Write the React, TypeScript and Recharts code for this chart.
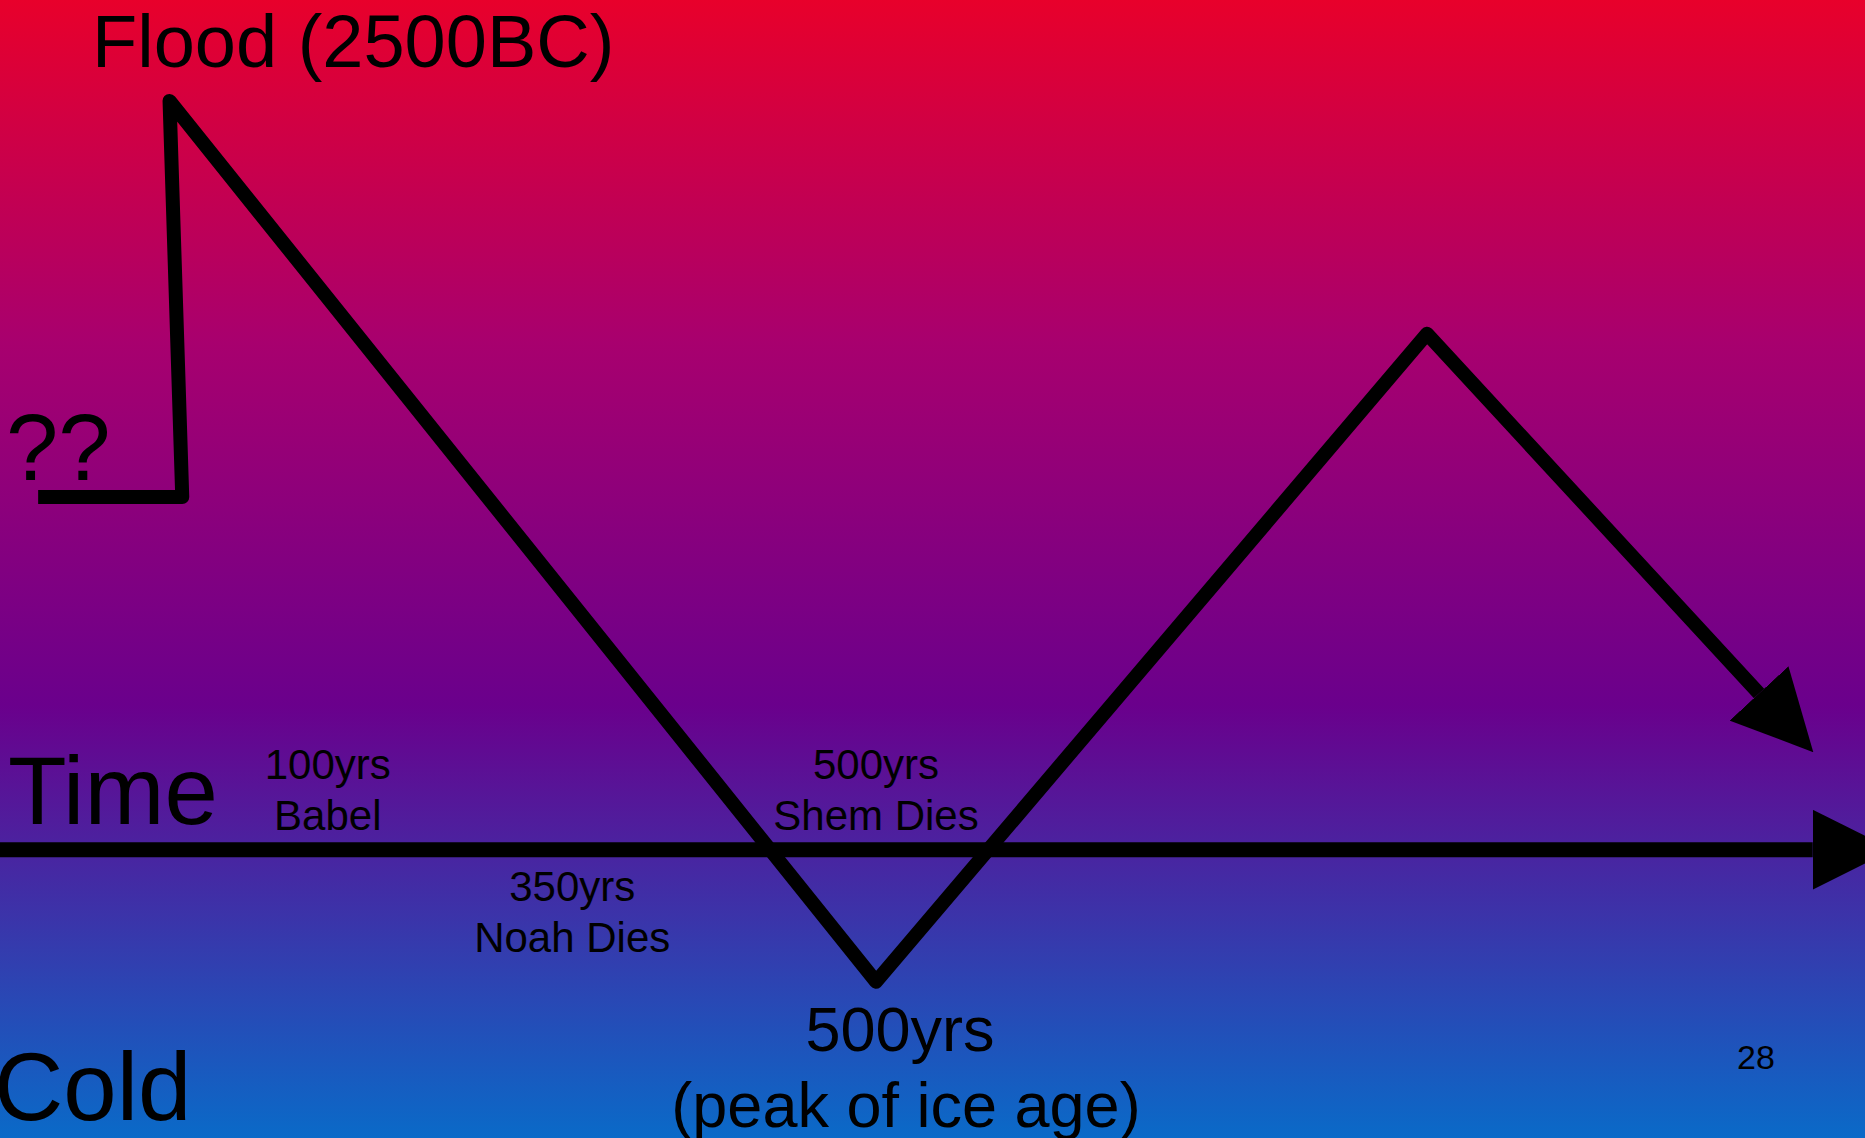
import { LineChart, Line, XAxis, YAxis, ReferenceDot } from "recharts";

// schematic time units (flood = 0) and relative temperature (time axis = 0)
const climateTime = [-93, 9, 0, 500, 890, 1125];
const climateTemp = [46.5, 46.5, 98.7, -17.4, 68, 20.6];

const timeAxisTime = [-120, 1163];
const timeAxisTemp = [0, 0];

const eventTime = [112, 285, 500];
const eventYears = ["100yrs", "350yrs", "500yrs"];
const eventNames = ["Babel", "Noah Dies", "Shem Dies"];
const eventAbove = [true, false, true];

const climateData = climateTime.map((t, i) => ({ t, temp: climateTemp[i] }));
const timeAxisData = timeAxisTime.map((t, i) => ({ t, temp: timeAxisTemp[i] }));

const W = 1865;
const H = 1138;
const FONT = "'Liberation Sans', Arial, sans-serif";

export default function App() {
  return (
    <div
      style={{
        position: "absolute",
        left: 0,
        top: 0,
        width: W,
        height: H,
        overflow: "hidden",
        background:
          "linear-gradient(to bottom, #e8002b 0%, #a8006e 30%, #6a008c 62%, #0a6ac8 100%)",
      }}
    >
      <LineChart width={W} height={H} data={climateData} margin={{ top: 0, right: 0, bottom: 0, left: 0 }}>
        <defs>
          <marker
            id="arrowHead"
            markerUnits="userSpaceOnUse"
            markerWidth={80}
            markerHeight={80}
            viewBox="0 0 80 80"
            refX={0}
            refY={40}
            orient="auto"
          >
            <path d="M0,0 L80,40 L0,80 Z" fill="#000" />
          </marker>
        </defs>
        <XAxis dataKey="t" type="number" domain={[-120, 1200]} hide />
        <YAxis type="number" domain={[-38, 112]} hide />
        <Line
          data={timeAxisData}
          dataKey="temp"
          type="linear"
          stroke="#000"
          strokeWidth={15}
          dot={false}
          activeDot={false}
          markerEnd="url(#arrowHead)"
          isAnimationActive={false}
        />
        <Line
          dataKey="temp"
          type="linear"
          stroke="#000"
          strokeWidth={14}
          strokeLinejoin="round"
          dot={false}
          activeDot={false}
          markerEnd="url(#arrowHead)"
          isAnimationActive={false}
        />
        {eventTime.map((t, i) => (
          <ReferenceDot
            key={i}
            x={t}
            y={0}
            r={0}
            ifOverflow="visible"
            shape={(p: any) => (
              <text
                x={p.cx}
                y={p.cy + (eventAbove[i] ? -71 : 51)}
                textAnchor="middle"
                fontFamily={FONT}
                fontSize={42}
                fill="#000"
              >
                <tspan x={p.cx}>{eventYears[i]}</tspan>
                <tspan x={p.cx} dy={51}>{eventNames[i]}</tspan>
              </text>
            )}
          />
        ))}
        <ReferenceDot
          x={500}
          y={-17.4}
          r={0}
          ifOverflow="visible"
          shape={(p: any) => (
            <text textAnchor="middle" fontFamily={FONT} fontSize={63} fill="#000">
              <tspan x={p.cx + 24} y={p.cy + 69}>500yrs</tspan>
              <tspan x={p.cx + 30} y={p.cy + 145}>(peak of ice age)</tspan>
            </text>
          )}
        />
        <text x={92} y={67} fontFamily={FONT} fontSize={74} fill="#000">
          Flood (2500BC)
        </text>
        <text x={6} y={480} fontFamily={FONT} fontSize={94} fill="#000">
          ??
        </text>
        <text x={8} y={824} fontFamily={FONT} fontSize={96} fill="#000">
          Time
        </text>
        <text x={-6} y={1120} fontFamily={FONT} fontSize={96} fill="#000">
          Cold
        </text>
        <text x={1756} y={1069} textAnchor="middle" fontFamily={FONT} fontSize={34} fill="#000">
          28
        </text>
      </LineChart>
    </div>
  );
}
